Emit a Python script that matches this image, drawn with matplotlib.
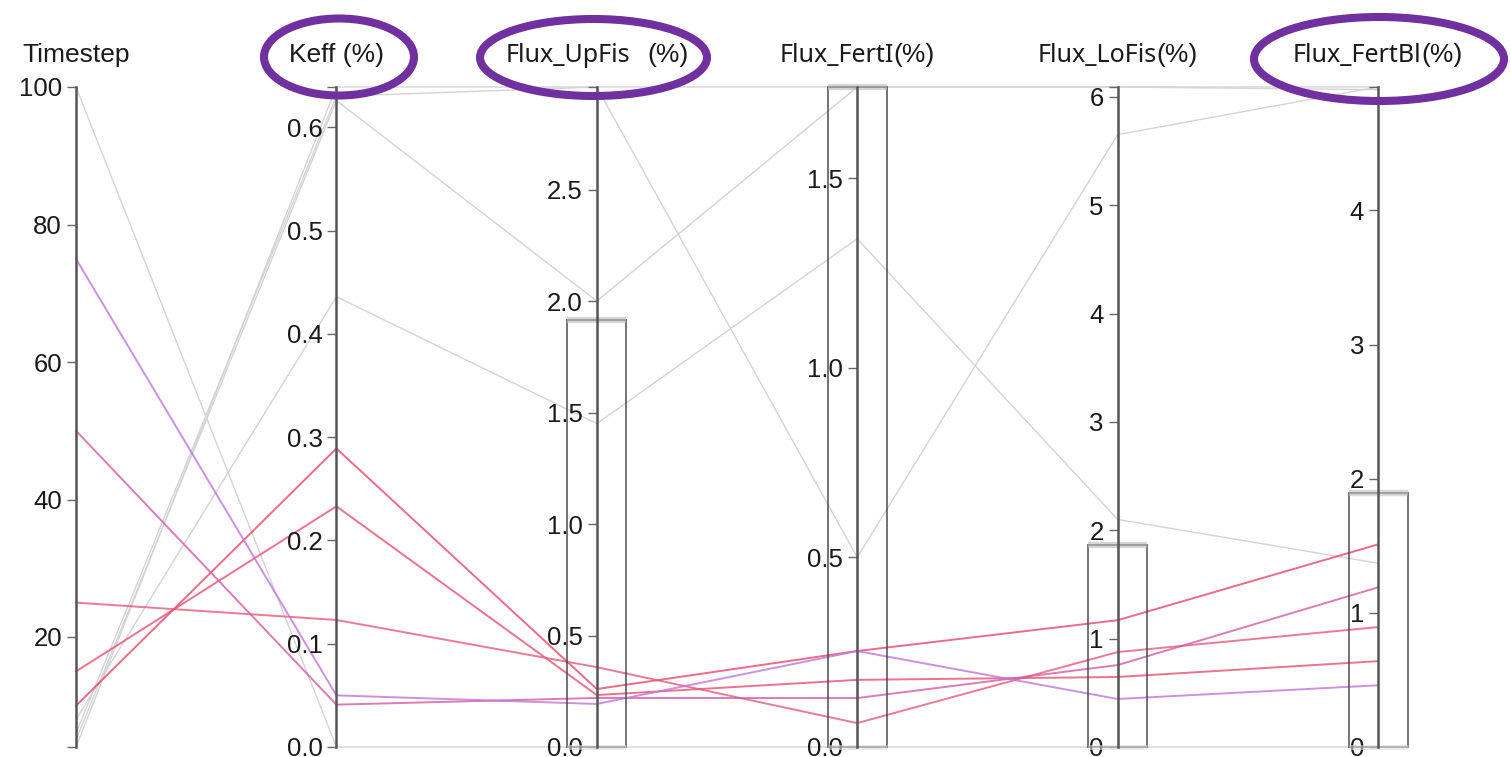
import numpy as np
import matplotlib.pyplot as plt
from matplotlib.patches import Ellipse, Rectangle
from matplotlib.ticker import FormatStrFormatter

plt.rc('font', family='Liberation Sans', size=19)

W, H = 1511, 757

# one value per run; the first five runs fall inside every brush
timestep = [10, 15, 25, 50, 75, 4, 5, 6, 8, 100]
keff = [0.289, 0.233, 0.123, 0.041, 0.050, 0.639, 0.626, 0.630, 0.436, 0.0]
flux_upfis = [0.26, 0.233, 0.358, 0.22, 0.193, 2.96, 2.0, 2.96, 1.45, 0.0]
flux_ferti = [0.253, 0.177, 0.063, 0.129, 0.253, 1.74, 1.74, 0.50, 1.34, 0.0]
flux_lofis = [1.17, 0.646, 0.876, 0.756, 0.443, 6.09, 6.09, 5.65, 2.10, 0.0]
flux_fertbl = [1.51, 0.64, 0.894, 1.19, 0.46, 4.92, 4.90, 4.92, 1.37, 0.0]

selected = [True, True, True, True, True, False, False, False, False, False]
run_colors = ['#e8466a', '#e8506e', '#e65a7a', '#d45aa6', '#c074da']

titles = [('Timestep', ''), ('Keff (%)', ''), ('Flux_UpFis', '(%)'),
          ('Flux_FertI', '(%)'), ('Flux_LoFis', '(%)'), ('Flux_FertBl', '(%)')]
title_gap = [0, 0, 17, 0, 0, 0]
ticks = [[20, 40, 60, 80, 100],
         [0.0, 0.1, 0.2, 0.3, 0.4, 0.5, 0.6],
         [0.0, 0.5, 1.0, 1.5, 2.0, 2.5],
         [0.0, 0.5, 1.0, 1.5],
         [0, 1, 2, 3, 4, 5, 6],
         [0, 1, 2, 3, 4]]
tick_fmt = ['%d', '%.1f', '%.1f', '%.1f', '%d', '%d']
# upper edge of the brush on each axis (brushes start at 0)
brush_top = [None, None, 1.917, 1.74, 1.863, 1.893]

columns = [timestep, keff, flux_upfis, flux_ferti, flux_lofis, flux_fertbl]
data = np.array(columns, dtype=float).T
lo = data.min(axis=0)
hi = data.max(axis=0)
norm = (data - lo) / (hi - lo)
ndim = len(columns)
xs = np.arange(ndim)

fig = plt.figure(figsize=(W / 100, H / 100), dpi=100)
left_px, right_px, top_px, bot_px = 76, 1378, 87, 747
host = fig.add_axes([left_px / W, (H - bot_px) / H,
                     (right_px - left_px) / W, (bot_px - top_px) / H])
host.set_xlim(0, ndim - 1)
host.set_ylim(0, 1)
host.axis('off')

# filtered-out runs first, then the brushed ones on top
k = 0
for row, sel in zip(norm, selected):
    if not sel:
        host.plot(xs, row, color='#d4d4d4', lw=1.0, clip_on=False, zorder=1)
for row, sel in zip(norm, selected):
    if sel:
        host.plot(xs, row, color=run_colors[k], lw=1.4, alpha=0.8,
                  clip_on=False, zorder=2)
        k += 1

px_per_unit = (right_px - left_px) / (ndim - 1)
half_w = 29.5 / px_per_unit

for i in range(ndim):
    ax = host.twinx()
    ax.set_ylim(lo[i], hi[i])
    for s in ['right', 'top', 'bottom']:
        ax.spines[s].set_visible(False)
    ax.spines['left'].set_position(('axes', i / (ndim - 1)))
    ax.spines['left'].set_color('#555555')
    ax.spines['left'].set_linewidth(1.8)
    ax.yaxis.set_ticks_position('left')
    ax.set_yticks(ticks[i])
    ax.set_yticks([lo[i], hi[i]], minor=True)
    ax.yaxis.set_major_formatter(FormatStrFormatter(tick_fmt[i]))
    ax.tick_params(axis='y', which='major', length=6.5, width=1.0,
                   color='#666666', labelcolor='#1a1a1a', pad=3.5, labelsize=18.5)
    ax.tick_params(axis='y', which='minor', length=6.5, width=1.0,
                   color='#666666', labelleft=False)
    ax.set_xlim(0, ndim - 1)
    ax.xaxis.set_visible(False)

    if brush_top[i] is not None:
        top = brush_top[i]
        ax.plot([i - half_w, i + half_w], [top, top], color='#bbbbbb',
                lw=4.5, alpha=0.6, solid_capstyle='butt', clip_on=False)
        ax.plot([i - half_w, i + half_w], [0, 0], color='#dddddd',
                lw=3.5, alpha=0.6, solid_capstyle='butt', clip_on=False)
        ax.add_patch(Rectangle((i - half_w, 0), 2 * half_w, top, fill=False,
                               edgecolor='#444444', lw=1.4, alpha=0.75,
                               clip_on=False))

# axis titles, some built from two differently styled pieces
fig.canvas.draw()
renderer = fig.canvas.get_renderer()
base_y = (H - 62) / H
for i, (name, unit) in enumerate(titles):
    cx = left_px + i * px_per_unit
    if not unit:
        fig.text(cx / W, base_y, name, ha='center', va='baseline',
                 fontsize=19, color='#1a1a1a')
        continue
    t1 = fig.text(0, base_y, name, ha='left', va='baseline',
                  fontsize=18, family='Noto Sans', color='#1a1a1a')
    t2 = fig.text(0, base_y, unit, ha='left', va='baseline',
                  fontsize=19, color='#1a1a1a')
    w1 = t1.get_window_extent(renderer).width
    w2 = t2.get_window_extent(renderer).width
    x0 = cx - (w1 + title_gap[i] + w2) / 2
    t1.set_x(x0 / W)
    t2.set_x((x0 + w1 + title_gap[i]) / W)

# highlight rings around the titles
for (ex, ey, ew, eh) in [(339, 57, 150, 77), (593.5, 57.5, 227, 77),
                         (1379, 59, 250, 84)]:
    fig.add_artist(Ellipse((ex / W, 1 - ey / H), ew / W, eh / H,
                           transform=fig.transFigure, fill=False,
                           edgecolor='#7030a0', lw=5.8))

plt.savefig('out.png', dpi=100)
